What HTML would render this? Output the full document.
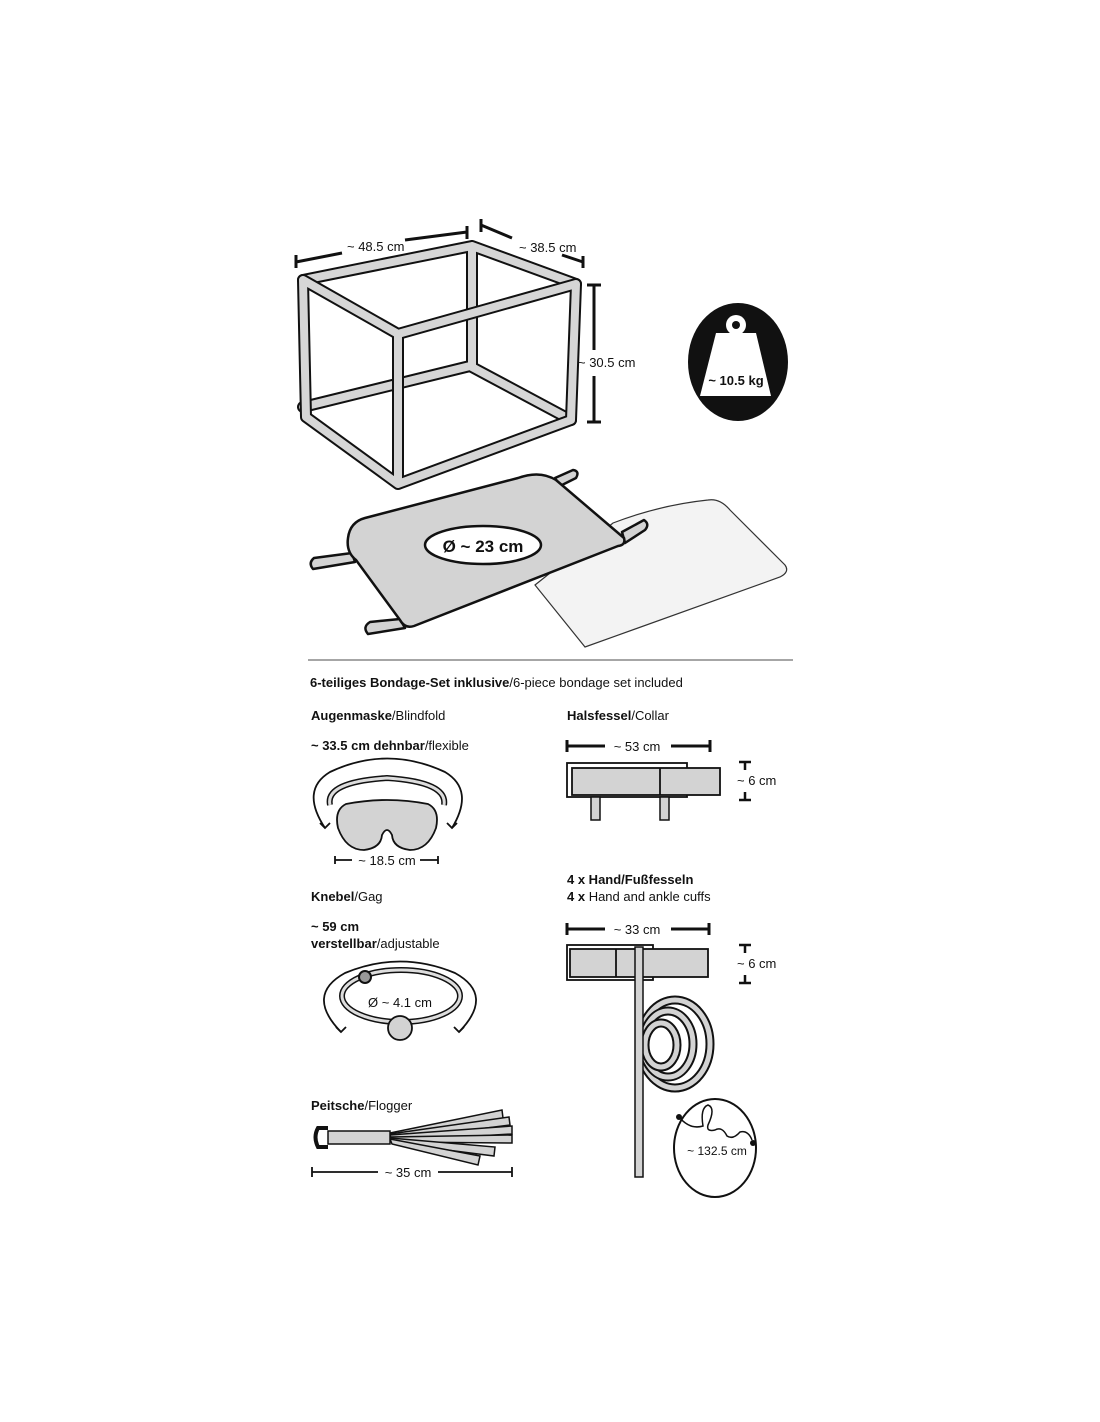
<!DOCTYPE html>
<html><head><meta charset="utf-8"><style>
html,body{margin:0;padding:0;background:#fff;}
svg{display:block;}
text{font-family:"Liberation Sans",sans-serif;fill:#111;}
</style></head><body>
<svg width="1100" height="1422" viewBox="0 0 1100 1422" xmlns="http://www.w3.org/2000/svg">
<g stroke-linecap="round" stroke-linejoin="round" fill="none">
<g stroke="#111" stroke-width="12">
<path d="M472,246 L472,366 M303,407 L470,366 L571,420 M472,246 L576,284 M303,280 L472,246"/>
</g>
<g stroke="#d6d6d6" stroke-width="8">
<path d="M472,246 L472,366 M303,407 L470,366 L571,420 M472,246 L576,284 M303,280 L472,246"/>
</g>
<g stroke="#111" stroke-width="12">
<path d="M303,280 L306,417 L398,484 L571,420 L576,284 L398,334 L303,280 M398,334 L398,484"/>
</g>
<g stroke="#d6d6d6" stroke-width="8">
<path d="M303,280 L306,417 L398,484 L571,420 L576,284 L398,334 L303,280 M398,334 L398,484"/>
</g>
</g>
<g stroke="#111" stroke-width="3" fill="none">
<path d="M296,262 L342,253 M296,255 L296,268 M405,240 L467,232 M467,226 L467,239"/>
<path d="M481,225 L512,238 M481,219 L481,232 M562,255 L583,262 M583,256 L583,268"/>
<path d="M594,285 L594,350 M594,376 L594,422 M587,285 L601,285 M587,422 L601,422"/>
</g>
<text x="347" y="251" font-size="13">~ 48.5 cm</text>
<text x="519" y="252" font-size="13">~ 38.5 cm</text>
<text x="578" y="367" font-size="13">~ 30.5 cm</text>
<ellipse cx="738" cy="362" rx="50" ry="59" fill="#111"/>
<circle cx="736" cy="325" r="10" fill="#fff"/>
<circle cx="736" cy="325" r="4" fill="#111"/>
<path d="M716,333 L756,333 L771,396 L700,396 Z" fill="#fff"/>
<text x="736" y="385" font-size="13" font-weight="bold" text-anchor="middle">~ 10.5 kg</text>
<path d="M613,523 Q660,505 708,500 Q720,498 730,510 L785,565 Q790,572 780,577 L585,647 L535,585 Z" fill="#f3f3f3" stroke="#333" stroke-width="1.2"/>
<g stroke="#111" stroke-width="2.5" fill="#d3d3d3" stroke-linejoin="round">
<path d="M555,478 L573,470 Q580,471 576,478 L560,486 Z"/>
<path d="M622,532 L644,520 Q650,524 645,530 L625,543 Z"/>
<path d="M352,553 L314,558 Q308,563 313,569 L355,562 Z"/>
<path d="M400,619 L370,622 Q362,627 368,634 L405,628 Z"/>
<path d="M348,538 Q350,522 365,518 L518,478 Q540,470 556,480 L624,538 Q626,545 618,546 L414,626 Q405,629 400,620 L356,560 Q346,552 348,538 Z"/>
</g>
<ellipse cx="483" cy="545" rx="58" ry="19" fill="#fff" stroke="#111" stroke-width="2.5"/>
<text x="483" y="552" font-size="17" font-weight="bold" text-anchor="middle">Ø ~ 23 cm</text>
<line x1="308" y1="660" x2="793" y2="660" stroke="#888" stroke-width="1.5"/>
<text x="310" y="687" font-size="13"><tspan font-weight="bold">6-teiliges Bondage-Set inklusive</tspan>/6-piece bondage set included</text>
<text x="311" y="720" font-size="13"><tspan font-weight="bold">Augenmaske</tspan>/Blindfold</text>
<text x="311" y="750" font-size="13"><tspan font-weight="bold">~ 33.5 cm dehnbar</tspan>/flexible</text>
<text x="567" y="720" font-size="13"><tspan font-weight="bold">Halsfessel</tspan>/Collar</text>
<text x="567" y="884" font-size="13"><tspan font-weight="bold">4 x Hand/Fußfesseln</tspan></text>
<text x="567" y="901" font-size="13"><tspan font-weight="bold">4 x</tspan> Hand and ankle cuffs</text>
<text x="311" y="901" font-size="13"><tspan font-weight="bold">Knebel</tspan>/Gag</text>
<text x="311" y="931" font-size="13" font-weight="bold">~ 59 cm</text>
<text x="311" y="948" font-size="13"><tspan font-weight="bold">verstellbar</tspan>/adjustable</text>
<text x="311" y="1110" font-size="13"><tspan font-weight="bold">Peitsche</tspan>/Flogger</text>
<g fill="none" stroke="#111" stroke-width="1.8">
<path d="M325,828 Q300,790 330,772 Q387,745 445,772 Q475,790 452,828"/>
<path d="M320,823 L325,828 L330,823 M447,823 L452,828 L457,823"/>
<path d="M330,805 Q325,782 387,778 Q448,782 444,805" stroke-width="6" stroke="#111"/>
<path d="M330,805 Q325,782 387,778 Q448,782 444,805" stroke-width="3" stroke="#ddd"/>
</g>
<path d="M346,804 Q387,796 428,804 Q440,810 436,828 Q428,850 410,850 Q393,848 392,835 Q387,825 382,835 Q381,848 364,850 Q346,850 338,828 Q334,810 346,804 Z" fill="#d3d3d3" stroke="#111" stroke-width="1.8"/>
<g stroke="#111" stroke-width="1.8"><path d="M335,860 L352,860 M335,856 L335,864 M420,860 L438,860 M438,856 L438,864"/></g>
<text x="387" y="865" font-size="13" text-anchor="middle">~ 18.5 cm</text>
<g stroke="#111" stroke-width="3"><path d="M567,746 L605,746 M567,740 L567,752 M671,746 L710,746 M710,740 L710,752"/></g>
<text x="637" y="751" font-size="13" text-anchor="middle">~ 53 cm</text>
<rect x="567" y="763" width="120" height="34" fill="#fff" stroke="#111" stroke-width="1.8"/>
<rect x="572" y="768" width="148" height="27" fill="#d3d3d3" stroke="#111" stroke-width="1.8"/>
<line x1="660" y1="768" x2="660" y2="795" stroke="#111" stroke-width="1.8"/>
<rect x="591" y="797" width="9" height="23" fill="#d3d3d3" stroke="#111" stroke-width="1.5"/>
<rect x="660" y="797" width="9" height="23" fill="#d3d3d3" stroke="#111" stroke-width="1.5"/>
<g stroke="#111" stroke-width="2.5"><path d="M739,762 L751,762 M745,762 L745,770 M745,792 L745,800 M739,800 L751,800"/></g>
<text x="737" y="785" font-size="13">~ 6 cm</text>
<g stroke="#111" stroke-width="3"><path d="M567,929 L605,929 M567,923 L567,935 M671,929 L709,929 M709,923 L709,935"/></g>
<text x="637" y="934" font-size="13" text-anchor="middle">~ 33 cm</text>
<rect x="567" y="945" width="86" height="35" fill="#fff" stroke="#111" stroke-width="1.8"/>
<rect x="570" y="949" width="138" height="28" fill="#d3d3d3" stroke="#111" stroke-width="1.8"/>
<line x1="616" y1="949" x2="616" y2="977" stroke="#111" stroke-width="1.8"/>
<g stroke="#111" stroke-width="2.5"><path d="M739,945 L751,945 M745,945 L745,953 M745,975 L745,983 M739,983 L751,983"/></g>
<text x="737" y="968" font-size="13">~ 6 cm</text>
<g fill="none">
<ellipse cx="675" cy="1044" rx="35" ry="44" stroke="#111" stroke-width="9"/>
<ellipse cx="675" cy="1044" rx="35" ry="44" stroke="#d3d3d3" stroke-width="5"/>
<ellipse cx="668" cy="1044" rx="25" ry="33" stroke="#111" stroke-width="9"/>
<ellipse cx="668" cy="1044" rx="25" ry="33" stroke="#d3d3d3" stroke-width="5"/>
<ellipse cx="661" cy="1045" rx="16" ry="22" stroke="#111" stroke-width="9"/>
<ellipse cx="661" cy="1045" rx="16" ry="22" stroke="#d3d3d3" stroke-width="5"/>
</g>
<rect x="635" y="947" width="8" height="230" fill="#d3d3d3" stroke="#111" stroke-width="1.5"/>
<ellipse cx="715" cy="1148" rx="41" ry="49" fill="#fff" stroke="#111" stroke-width="2"/>
<path d="M679,1117 Q690,1130 703,1126 Q700,1108 708,1105 Q716,1108 708,1125 Q706,1132 715,1130 Q722,1126 727,1136 Q733,1140 740,1132 Q748,1130 752,1140" fill="none" stroke="#111" stroke-width="1.5"/>
<circle cx="679" cy="1117" r="3" fill="#111"/><circle cx="753" cy="1143" r="3" fill="#111"/>
<text x="717" y="1155" font-size="12" text-anchor="middle">~ 132.5 cm</text>
<g fill="none" stroke="#111" stroke-width="1.8">
<path d="M341,1032 Q305,995 345,973 Q400,950 455,973 Q495,995 459,1032"/>
<path d="M336,1027 L341,1032 L346,1027 M454,1027 L459,1032 L464,1027"/>
<ellipse cx="401" cy="996" rx="59" ry="26" stroke-width="6"/>
<ellipse cx="401" cy="996" rx="59" ry="26" stroke-width="3" stroke="#ddd"/>
</g>
<circle cx="365" cy="977" r="6" fill="#999" stroke="#111" stroke-width="2"/>
<circle cx="400" cy="1028" r="12" fill="#d3d3d3" stroke="#111" stroke-width="1.8"/>
<text x="400" y="1007" font-size="13" text-anchor="middle">Ø ~ 4.1 cm</text>
<g stroke="#111" stroke-width="1.5" fill="#d3d3d3">
<path d="M390,1133 L502,1110 L503,1118 L392,1140 Z"/>
<path d="M390,1134 L509,1117 L510,1125 L392,1140 Z"/>
<path d="M390,1135 L512,1126 L512,1134 L392,1141 Z"/>
<path d="M390,1137 L512,1135 L512,1143 L392,1142 Z"/>
<path d="M390,1138 L495,1147 L494,1156 L392,1143 Z"/>
<path d="M390,1139 L480,1156 L478,1165 L392,1144 Z"/>
<rect x="328" y="1131" width="62" height="13" fill="#d3d3d3"/>
</g>
<path d="M328,1128 L318,1128 Q313,1137 318,1147 L328,1147" fill="none" stroke="#111" stroke-width="4"/>
<g stroke="#111" stroke-width="1.8"><path d="M312,1172 L378,1172 M312,1167 L312,1177 M438,1172 L512,1172 M512,1167 L512,1177"/></g>
<text x="408" y="1177" font-size="13" text-anchor="middle">~ 35 cm</text>
</svg>
</body></html>
